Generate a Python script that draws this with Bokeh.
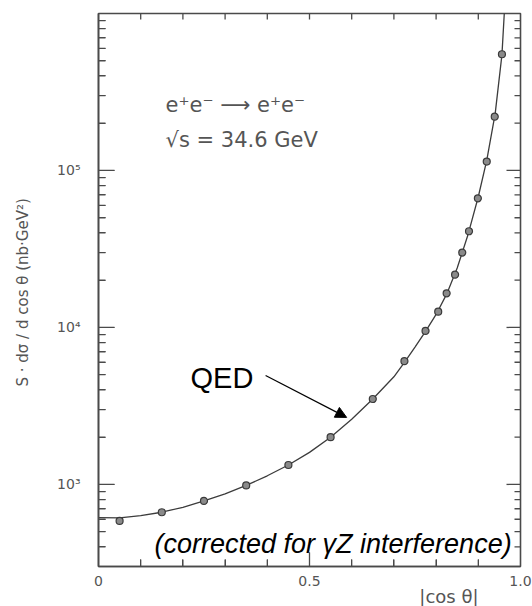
import math

from bokeh.embed import file_html
from bokeh.models import (Arrow, CustomJSTickFormatter, FixedTicker, Label,
                          LinearAxis, LogAxis, NormalHead, Range1d, Title)
from bokeh.plotting import figure
from bokeh.resources import INLINE

# Measured Bhabha cross section, e+e- -> e+e- at sqrt(s) = 34.6 GeV
cos_theta = [0.05, 0.15, 0.25, 0.35, 0.45, 0.55, 0.65, 0.725, 0.775, 0.805,
             0.825, 0.845, 0.862, 0.878, 0.899, 0.92, 0.939, 0.956]
s_dsigma = [585, 665, 785, 985, 1330, 2000, 3500, 6100, 9500, 12600,
            16500, 21700, 30000, 41000, 66500, 114000, 220000, 550000]

# QED prediction
qed_cos = [0.0, 0.05, 0.10, 0.15, 0.20, 0.25, 0.30, 0.35, 0.40, 0.45, 0.50,
           0.55, 0.60, 0.65, 0.70, 0.725, 0.75, 0.775, 0.80, 0.825, 0.85,
           0.875, 0.90, 0.92, 0.94, 0.956, 0.962]
qed_val = [615, 612, 632, 665, 715, 785, 870, 985, 1135, 1330, 1600,
           2000, 2600, 3500, 4850, 6000, 7500, 9450, 12100, 16300, 23900,
           38500, 68000, 116000, 230000, 545000, 1050000]

x_tick_values = [0.0, 0.5, 1.0]
x_tick_labels = ["0", "0.5", "1.0"]
y_tick_values = [1e3, 1e4, 1e5]
y_tick_labels = ["10\u00b3", "10\u2074", "10\u2075"]

GREY = "#4a4a4a"
TXT = "#555555"
FONT = "DejaVu Sans"

p = figure(width=532, height=606, x_range=Range1d(0, 1), y_range=Range1d(300, 1e6),
           y_axis_type="log", x_axis_location=None, y_axis_location=None,
           output_backend="svg", toolbar_location=None,
           min_border_left=98, min_border_right=12, min_border_top=13,
           min_border_bottom=40)
p.background_fill_color = None
p.border_fill_color = None
p.outline_line_color = GREY
p.outline_line_width = 1.6
p.xgrid.visible = False
p.ygrid.visible = False

x0, x1 = p.x_range.start, p.x_range.end
y0, y1 = p.y_range.start, p.y_range.end

x_minor = [i / 10 for i in range(1, 10) if i != 5]
y_minor = [k * 10 ** e for e in range(2, 6) for k in range(2, 10) if y0 < k * 10 ** e < y1]
y_major = [1e3, 1e4, 1e5]


def label_axis(ax, major_in, minor_in):
    ax.axis_line_color = GREY
    ax.axis_line_width = 1.6
    ax.major_tick_line_color = GREY
    ax.minor_tick_line_color = GREY
    ax.major_tick_in = major_in
    ax.major_tick_out = 0
    ax.minor_tick_in = minor_in
    ax.minor_tick_out = 0
    ax.major_label_text_font = FONT
    ax.major_label_text_font_size = "14px"
    ax.major_label_text_color = TXT


# bottom axis
xb = LinearAxis(ticker=FixedTicker(ticks=x_tick_values, minor_ticks=x_minor),
                formatter=CustomJSTickFormatter(
                    args=dict(vals=x_tick_values, labs=x_tick_labels), code="""
const i = vals.findIndex(v => Math.abs(v - tick) < 1e-9);
return i >= 0 ? labs[i] : "";
"""))
label_axis(xb, 14, 7)
xb.major_label_standoff = 9
p.add_layout(xb, "below")

# left axis with its rotated title
yl = LogAxis(ticker=FixedTicker(ticks=y_major, minor_ticks=y_minor),
             formatter=CustomJSTickFormatter(
                 args=dict(vals=y_tick_values, labs=y_tick_labels), code="""
const i = vals.findIndex(v => Math.abs(v - tick) < 1e-6 * v);
return i >= 0 ? labs[i] : "";
"""))
label_axis(yl, 16, 7)
yl.major_label_standoff = 18
yl.axis_label = "S \u00b7 d\u03c3 / d cos \u03b8  (nb\u00b7GeV\u00b2)"
yl.axis_label_standoff = 22
yl.axis_label_text_font = FONT
yl.axis_label_text_font_size = "15px"
yl.axis_label_text_font_style = "normal"
yl.axis_label_text_color = TXT
p.add_layout(yl, "left")


# inward tick marks on all four sides; dashes centred on the frame edge,
# so only the half inside the frame shows
def ticks(xs, ys, length, angle):
    p.scatter(x=xs, y=ys, marker="dash", size=2 * length, angle=angle,
              line_color=GREY, line_width=1.3)


ticks([x0] * len(y_major), y_major, 16, 0)
ticks([x0] * len(y_minor), y_minor, 7, 0)
ticks([x1] * len(y_major), y_major, 14, 0)
ticks([x1] * len(y_minor), y_minor, 6, 0)
ticks([0.5], [y0], 14, math.pi / 2)
ticks(x_minor, [y0] * len(x_minor), 7, math.pi / 2)
ticks(x_minor + [0.5], [y1] * (len(x_minor) + 1), 6, math.pi / 2)

# x axis title, right of centre below the axis
p.add_layout(Title(text="|cos \u03b8|", align="right", offset=42, standoff=-9,
                   text_font=FONT, text_font_size="18px", text_color=TXT,
                   text_font_style="normal"), "below")

# QED curve and data points
p.line(qed_cos, qed_val, line_color="#3c3c3c", line_width=1.3)
p.scatter(cos_theta, s_dsigma, size=7, marker="circle", fill_color="#8a8a8a",
          line_color="#3a3a3a", line_width=1.2)

# reaction and energy
p.add_layout(Label(x=0.159, y=2.63e5, text="e\u207ae\u207b \u27f6 e\u207ae\u207b",
                   text_font=FONT, text_font_size="21px", text_color=TXT,
                   text_baseline="middle"))
p.add_layout(Label(x=0.159, y=1.574e5, text="\u221as = 34.6 GeV",
                   text_font=FONT, text_font_size="21px", text_color=TXT,
                   text_baseline="middle"))

# QED label with arrow
p.add_layout(Label(x=0.218, y=4730, text="QED", text_font="Liberation Sans",
                   text_font_size="29px", text_color="black",
                   text_baseline="alphabetic"))
p.add_layout(Arrow(x_start=0.396, y_start=4945, x_end=0.588, y_end=2673,
                   line_color="black", line_width=1.2,
                   end=NormalHead(size=11, fill_color="black", line_color="black")))

p.add_layout(Label(x=0.979, y=415, text="(corrected for \u03b3Z interference)",
                   text_font="Liberation Sans", text_font_style="italic",
                   text_font_size="27px", text_color="black", text_align="right",
                   text_baseline="alphabetic"))

open("out.html", "w").write(file_html(p, INLINE))
